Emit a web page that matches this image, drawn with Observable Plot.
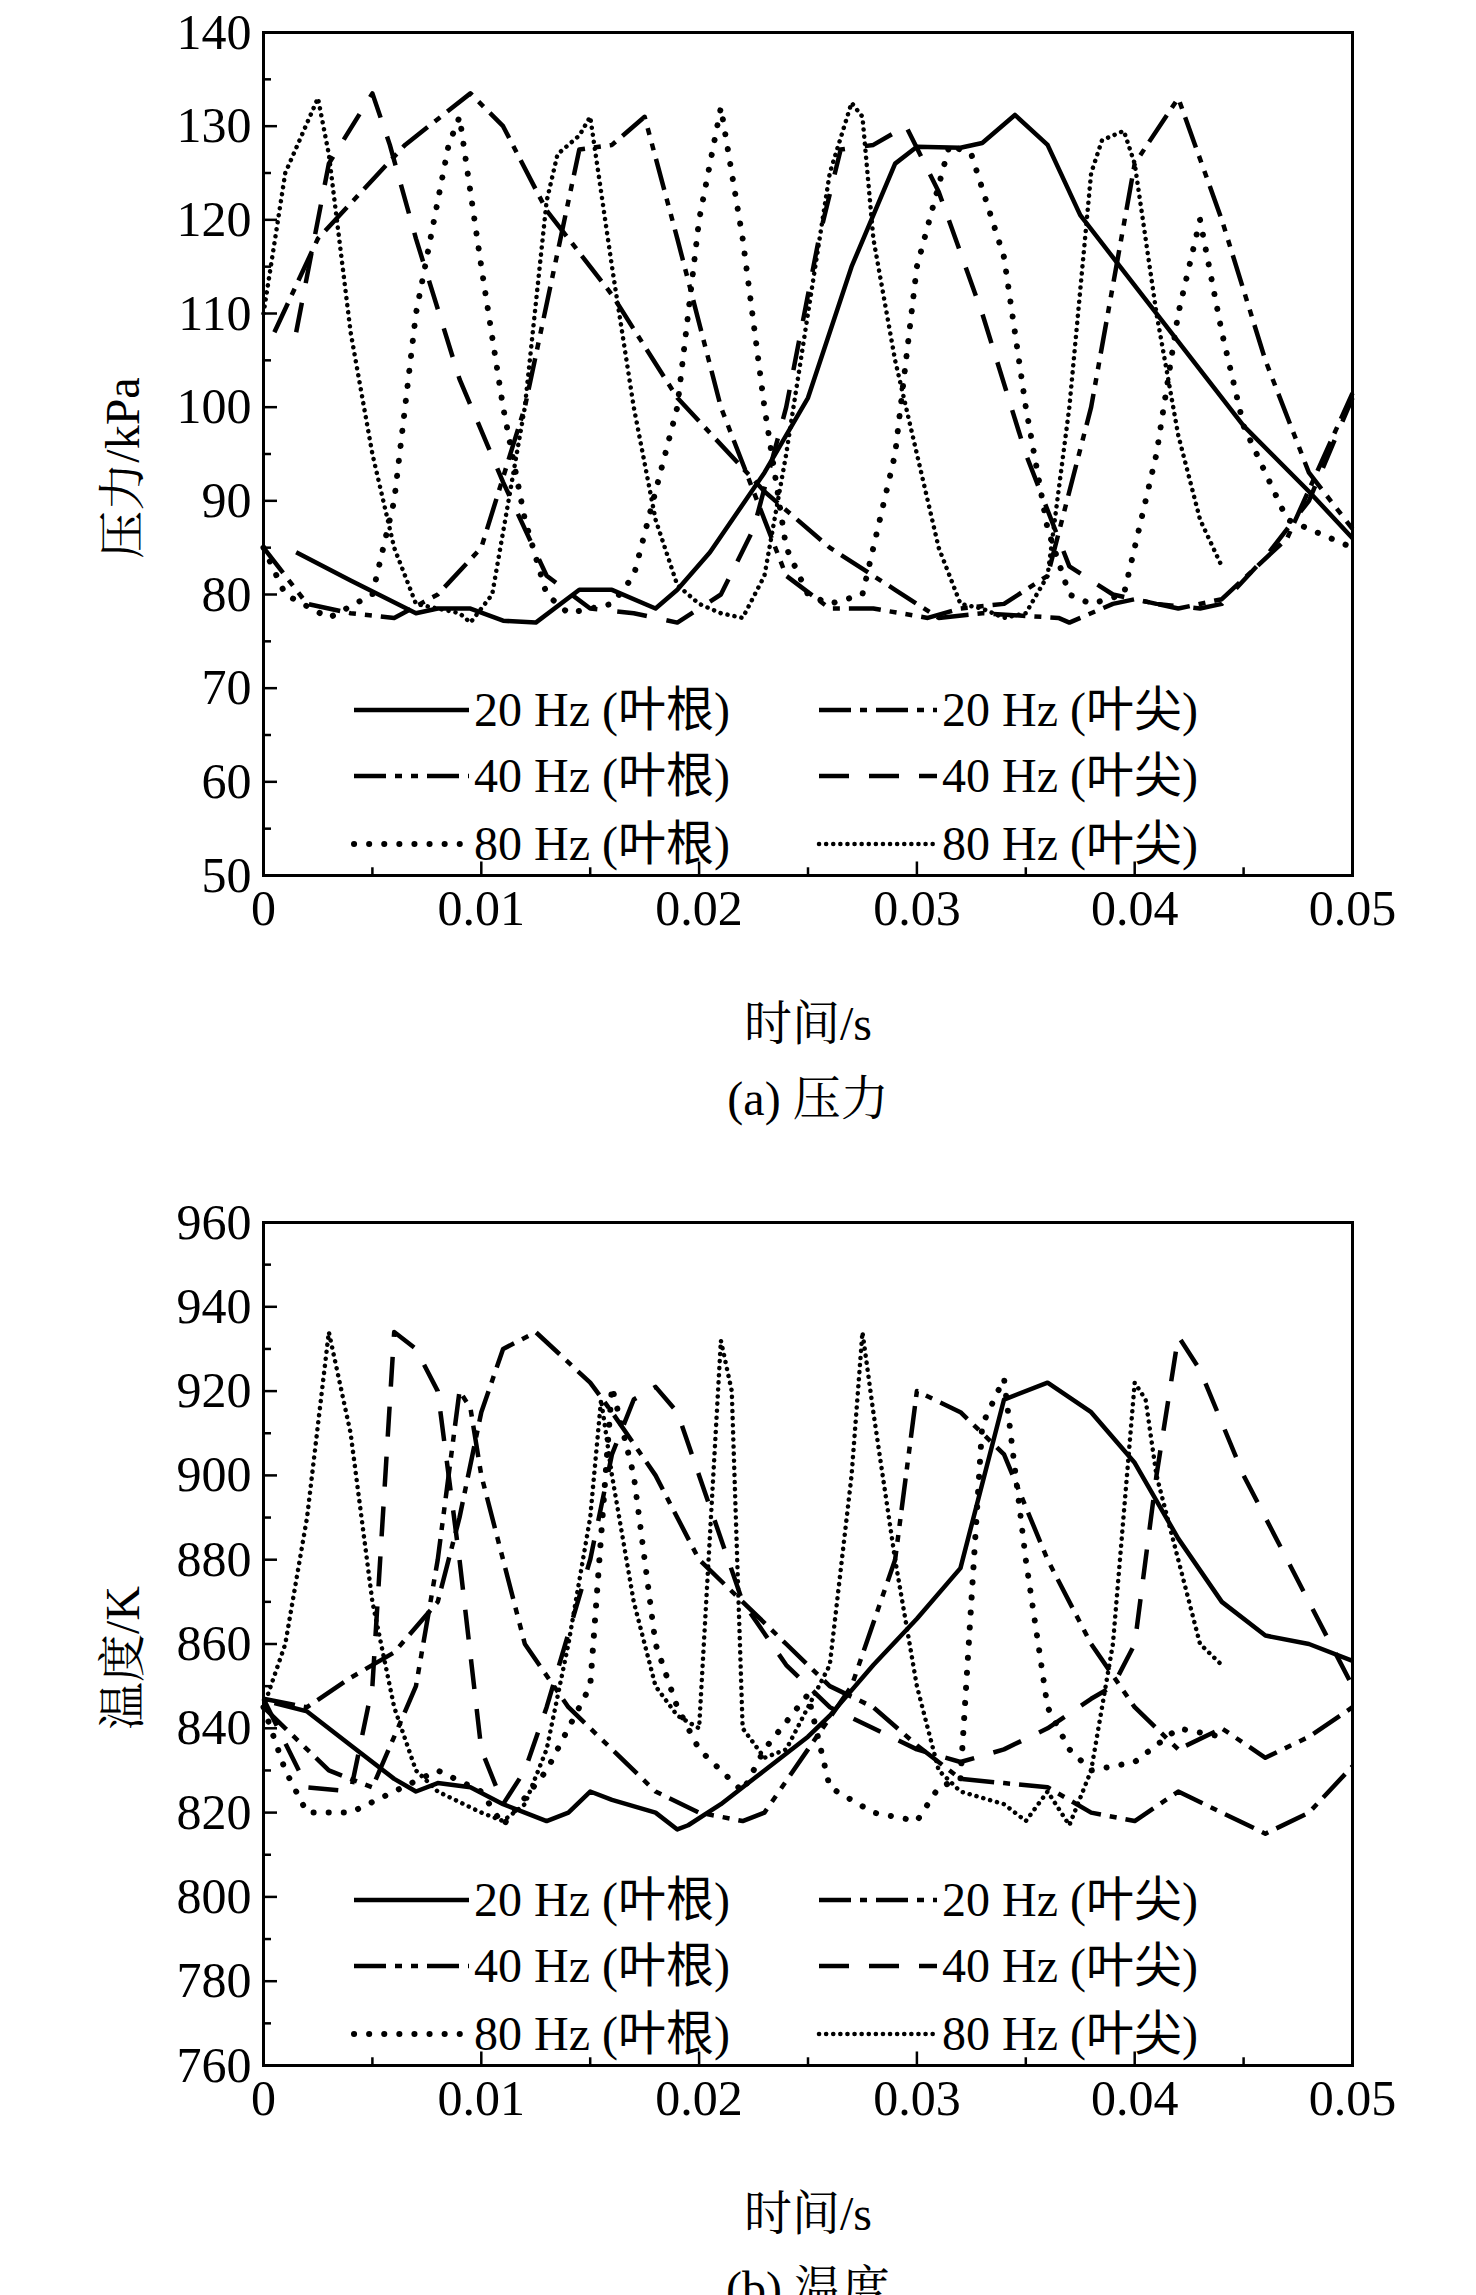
<!DOCTYPE html>
<html><head><meta charset="utf-8">
<script src="https://cdn.jsdelivr.net/npm/d3@7"></script>
<script src="https://cdn.jsdelivr.net/npm/@observablehq/plot@0.6"></script>
<style>
body{margin:0;background:#fff;}
#root{position:relative;width:1476px;height:2295px;font-family:"Liberation Serif","Noto Serif CJK SC","Noto Sans CJK SC",serif;}
.lab{position:absolute;font-size:48px;color:#000;white-space:nowrap;}
.panel{position:absolute;left:0;}
svg text{font-family:"Liberation Serif","Noto Sans CJK SC",serif !important;}
</style></head><body><div id="root"></div>
<script>
const seriesNames = ["20 Hz (叶根)","20 Hz (叶尖)","40 Hz (叶根)","40 Hz (叶尖)","80 Hz (叶根)","80 Hz (叶尖)"];
const xTicks = [0,0.01,0.02,0.03,0.04,0.05];
const xTickLabels = ["0","0.01","0.02","0.03","0.04","0.05"];
const pTicks = [50,60,70,80,90,100,110,120,130,140];
const tTicks = [760,780,800,820,840,860,880,900,920,940,960];

// Pressure (kPa)
const p20root = [[0.0015,84.5],[0.004,81.5],[0.007,78],[0.008,78.5],[0.0095,78.5],[0.011,77.2],[0.0125,77],[0.0145,80.5],[0.016,80.5],[0.018,78.5],[0.019,80.5],[0.0205,84.5],[0.023,93],[0.025,101],[0.027,115],[0.029,126],[0.030,127.8],[0.032,127.7],[0.033,128.2],[0.0345,131.2],[0.036,128],[0.0375,120.5],[0.039,116],[0.042,107],[0.045,98],[0.048,91],[0.05,86]];
const p20tip = [[0.0005,108],[0.0025,118],[0.0045,123],[0.0065,128],[0.0095,133.5],[0.011,130],[0.013,121],[0.016,112],[0.019,101],[0.023,91],[0.026,85],[0.029,80.5],[0.031,77.5],[0.033,78],[0.0365,77.5],[0.037,77],[0.039,79],[0.040,79.5],[0.042,78.5],[0.044,79.5],[0.047,86],[0.05,101.5]];
const p40root = [[0,85],[0.002,79],[0.004,78],[0.006,77.5],[0.008,80],[0.010,85],[0.012,100],[0.0145,127.5],[0.016,128],[0.0175,131],[0.019,118],[0.021,100],[0.023,88],[0.024,82],[0.026,78.5],[0.028,78.5],[0.0305,77.5],[0.032,78.5],[0.034,79],[0.036,82],[0.038,100],[0.040,126],[0.042,133],[0.044,120],[0.046,105],[0.048,93],[0.05,87]];
const p40tip = [[0.0015,108],[0.003,126],[0.005,133.5],[0.0058,128],[0.007,118],[0.009,103],[0.011,92],[0.013,82],[0.015,78.5],[0.017,78],[0.019,77],[0.021,80],[0.0225,87],[0.024,100],[0.0255,118],[0.0265,127.5],[0.028,128],[0.0295,130],[0.031,123],[0.033,110],[0.035,95],[0.037,83],[0.039,80],[0.041,79],[0.043,78.5],[0.044,79],[0.046,84],[0.048,90],[0.05,101]];
const p80root = [[0,85],[0.001,80],[0.003,77.5],[0.005,80],[0.006,90],[0.007,110],[0.0085,128],[0.009,131],[0.010,115],[0.011,100],[0.012,88],[0.013,80],[0.014,78],[0.016,79],[0.017,82],[0.019,100],[0.020,120],[0.021,132],[0.022,118],[0.023,100],[0.024,85],[0.025,80],[0.026,79],[0.0275,80],[0.029,95],[0.030,115],[0.0315,128],[0.0325,127],[0.034,116],[0.035,100],[0.036,87],[0.037,80],[0.038,79],[0.0395,80],[0.041,95],[0.042,110],[0.043,120],[0.044,108],[0.045,98],[0.047,88],[0.05,85]];
const p80tip = [[0,110],[0.001,125],[0.0025,133],[0.003,127],[0.004,108],[0.005,95],[0.006,85],[0.007,79],[0.008,78.5],[0.009,78],[0.0095,77],[0.0105,80],[0.012,100],[0.013,122],[0.0135,127],[0.0145,129],[0.015,131],[0.016,115],[0.017,100],[0.018,88],[0.019,81],[0.020,79],[0.021,78],[0.022,77.5],[0.023,82],[0.024,95],[0.025,110],[0.026,125],[0.027,132.5],[0.0275,131],[0.028,118],[0.029,105],[0.030,95],[0.031,85],[0.032,79],[0.033,78.5],[0.034,77.5],[0.035,78],[0.036,82],[0.037,100],[0.038,125],[0.0385,128.5],[0.0395,129.5],[0.040,126],[0.041,110],[0.042,97],[0.043,88],[0.044,83]];

// Temperature (K)
const t20root = [[0.0005,846],[0.002,844],[0.004,836],[0.006,828],[0.007,825],[0.008,827],[0.0095,826],[0.011,822],[0.012,820],[0.013,818],[0.014,820],[0.015,825],[0.016,823],[0.018,820],[0.019,816],[0.0195,817],[0.021,822],[0.023,830],[0.025,838],[0.026,843],[0.028,855],[0.030,866],[0.032,878],[0.034,918],[0.036,922],[0.038,915],[0.040,903],[0.042,885],[0.044,870],[0.046,862],[0.048,860],[0.050,856]];
const t20tip = [[0,847],[0.002,845],[0.004,852],[0.006,858],[0.008,870],[0.009,890],[0.010,915],[0.011,930],[0.0125,934],[0.015,922],[0.016,915],[0.018,900],[0.020,880],[0.022,870],[0.024,860],[0.026,850],[0.028,845],[0.030,836],[0.032,828],[0.034,827],[0.036,826],[0.038,820],[0.040,818],[0.042,825],[0.044,820],[0.046,815],[0.048,820],[0.05,831]];
const t40root = [[0,845],[0.001,840],[0.003,830],[0.005,826],[0.007,850],[0.008,880],[0.009,920],[0.0095,916],[0.010,900],[0.012,860],[0.014,845],[0.016,835],[0.018,825],[0.020,820],[0.022,818],[0.023,820],[0.025,835],[0.027,850],[0.029,880],[0.030,920],[0.032,915],[0.034,905],[0.036,880],[0.038,860],[0.040,845],[0.042,835],[0.044,840],[0.046,833],[0.048,838],[0.05,845]];
const t40tip = [[0,847],[0.002,826],[0.004,825],[0.005,850],[0.006,934],[0.007,930],[0.008,920],[0.009,880],[0.010,835],[0.011,822],[0.012,830],[0.013,845],[0.015,880],[0.016,905],[0.017,918],[0.018,921],[0.019,915],[0.020,900],[0.022,870],[0.024,855],[0.026,845],[0.028,840],[0.030,835],[0.032,832],[0.034,835],[0.036,840],[0.038,847],[0.039,850],[0.040,860],[0.041,900],[0.042,933],[0.043,925],[0.045,900],[0.047,880],[0.05,850]];
const t80root = [[0,845],[0.001,830],[0.002,820],[0.004,820],[0.006,825],[0.008,830],[0.010,825],[0.011,817],[0.013,830],[0.015,850],[0.016,921],[0.017,900],[0.018,860],[0.019,845],[0.020,835],[0.021,830],[0.022,825],[0.023,835],[0.025,848],[0.026,826],[0.028,820],[0.030,818],[0.031,826],[0.032,828],[0.033,912],[0.034,923],[0.035,880],[0.036,845],[0.037,835],[0.038,830],[0.040,832],[0.042,840],[0.044,838]];
const t80tip = [[0,845],[0.001,860],[0.002,890],[0.003,934],[0.004,910],[0.005,870],[0.006,845],[0.007,830],[0.008,825],[0.010,820],[0.011,818],[0.012,822],[0.013,835],[0.014,860],[0.015,890],[0.0155,918],[0.016,900],[0.017,870],[0.018,850],[0.019,843],[0.020,840],[0.021,932],[0.0215,920],[0.022,840],[0.023,833],[0.024,835],[0.025,845],[0.026,855],[0.027,900],[0.0275,934],[0.028,915],[0.029,880],[0.030,850],[0.031,830],[0.032,825],[0.034,822],[0.035,818],[0.036,825],[0.037,817],[0.038,830],[0.039,860],[0.040,922],[0.0405,918],[0.041,900],[0.042,880],[0.043,860],[0.044,855]];

const styles = [
  {dash:null, w:4.5, cap:"butt"},
  {dash:"32,9,7,9", w:4.5, cap:"butt"},
  {dash:"32,9,7,9,7,9", w:4.5, cap:"butt"},
  {dash:"30,20", w:4.5, cap:"butt"},
  {dash:"0.1,15", w:6, cap:"round"},
  {dash:"0.1,7", w:4.5, cap:"round"}
];

const root = document.getElementById("root");
function lab(text, x, y, anchor, size){
  const d=document.createElement("div"); d.className="lab"; d.textContent=text;
  d.style.top=y+"px"; d.style.fontSize=(size||48)+"px";
  if(anchor==="c"){d.style.left=x+"px";d.style.transform="translate(-50%,0)";}
  else d.style.left=x+"px";
  root.appendChild(d); return d;
}

function panel(top, series, yDomain, yTicks, yLabel, caption){
  const H = 875;
  const minorY = yTicks.slice(0,-1).map((v,i)=>(v+yTicks[i+1])/2);
  const minorX = xTicks.slice(0,-1).map((v,i)=>(v+xTicks[i+1])/2);
  const xr = 0.05/1089, yr = (yDomain[1]-yDomain[0])/873;
  const marks = [];
  series.forEach((s,i)=>{
    const st=styles[i];
    marks.push(Plot.line(s,{x:d=>d[0],y:d=>d[1],stroke:"#000",strokeWidth:st.w,strokeDasharray:st.dash,strokeLinecap:st.cap,strokeLinejoin:"round"}));
  });
  marks.push(Plot.ruleY(yTicks,{x1:0,x2:14*xr,stroke:"#000",strokeWidth:2.5}));
  marks.push(Plot.ruleY(minorY,{x1:0,x2:8*xr,stroke:"#000",strokeWidth:2.5}));
  marks.push(Plot.ruleX(xTicks,{y1:yDomain[0],y2:yDomain[0]+14*yr,stroke:"#000",strokeWidth:2.5}));
  marks.push(Plot.ruleX(minorX,{y1:yDomain[0],y2:yDomain[0]+8*yr,stroke:"#000",strokeWidth:2.5}));
  marks.push(Plot.axisY(yTicks,{tickSize:0,tickPadding:12,fontSize:50,fontFamily:"Liberation Serif"}));
  marks.push(Plot.axisX(xTicks,{tickSize:0,tickPadding:14,fontSize:50,fontFamily:"Liberation Serif",tickFormat:(d)=>xTickLabels[xTicks.indexOf(d)]}));
  marks.push(Plot.frame({stroke:"#000",strokeWidth:3}));
  const chart = Plot.plot({
    width:1476, height:H+80, marginLeft:263, marginRight:124, marginTop:32, marginBottom:80,
    x:{domain:[0,0.05]}, y:{domain:yDomain},
    style:{fontFamily:"Liberation Serif",color:"#000",background:"transparent",overflow:"visible"},
    marks
  });
  const wrap=document.createElement("div"); wrap.className="panel"; wrap.style.top=top+"px";
  wrap.appendChild(chart); root.appendChild(wrap);

  const ns="http://www.w3.org/2000/svg";
  const svg=document.createElementNS(ns,"svg");
  svg.setAttribute("width",1476); svg.setAttribute("height",H+100);
  svg.style.position="absolute"; svg.style.left="0"; svg.style.top=top+"px";
  const rowsY=[710-32,776-32,844-32];
  seriesNames.forEach((n,i)=>{
    const col=i%2,row=Math.floor(i/2);
    const x0=col?819:354, x1=col?937:469, y=32+rowsY[row];
    const st=styles[i];
    const l=document.createElementNS(ns,"line");
    l.setAttribute("x1",x0);l.setAttribute("x2",x1);l.setAttribute("y1",y);l.setAttribute("y2",y);
    l.setAttribute("stroke","#000");l.setAttribute("stroke-width",st.w);
    if(st.dash)l.setAttribute("stroke-dasharray",st.dash);
    l.setAttribute("stroke-linecap",st.cap);
    svg.appendChild(l);
    const t=document.createElementNS(ns,"text");
    t.setAttribute("x",x1+5);t.setAttribute("y",y+16);t.setAttribute("font-size",48);
    t.textContent=n; svg.appendChild(t);
  });
  root.appendChild(svg);

  const yl=lab(yLabel,0,0,null,48);
  yl.style.left="118px"; yl.style.top=(top+32+436)+"px";
  yl.style.transform="translate(-50%,-50%) rotate(-90deg)";
  lab("时间/s",808,top+985,"c",48);
  lab(caption,808,top+1060,"c",48);
}

panel(0,[p20root,p20tip,p40root,p40tip,p80root,p80tip],[50,140],pTicks,"压力/kPa","(a) 压力");
panel(1190,[t20root,t20tip,t40root,t40tip,t80root,t80tip],[760,960],tTicks,"温度/K","(b) 温度");
</script></body></html>
